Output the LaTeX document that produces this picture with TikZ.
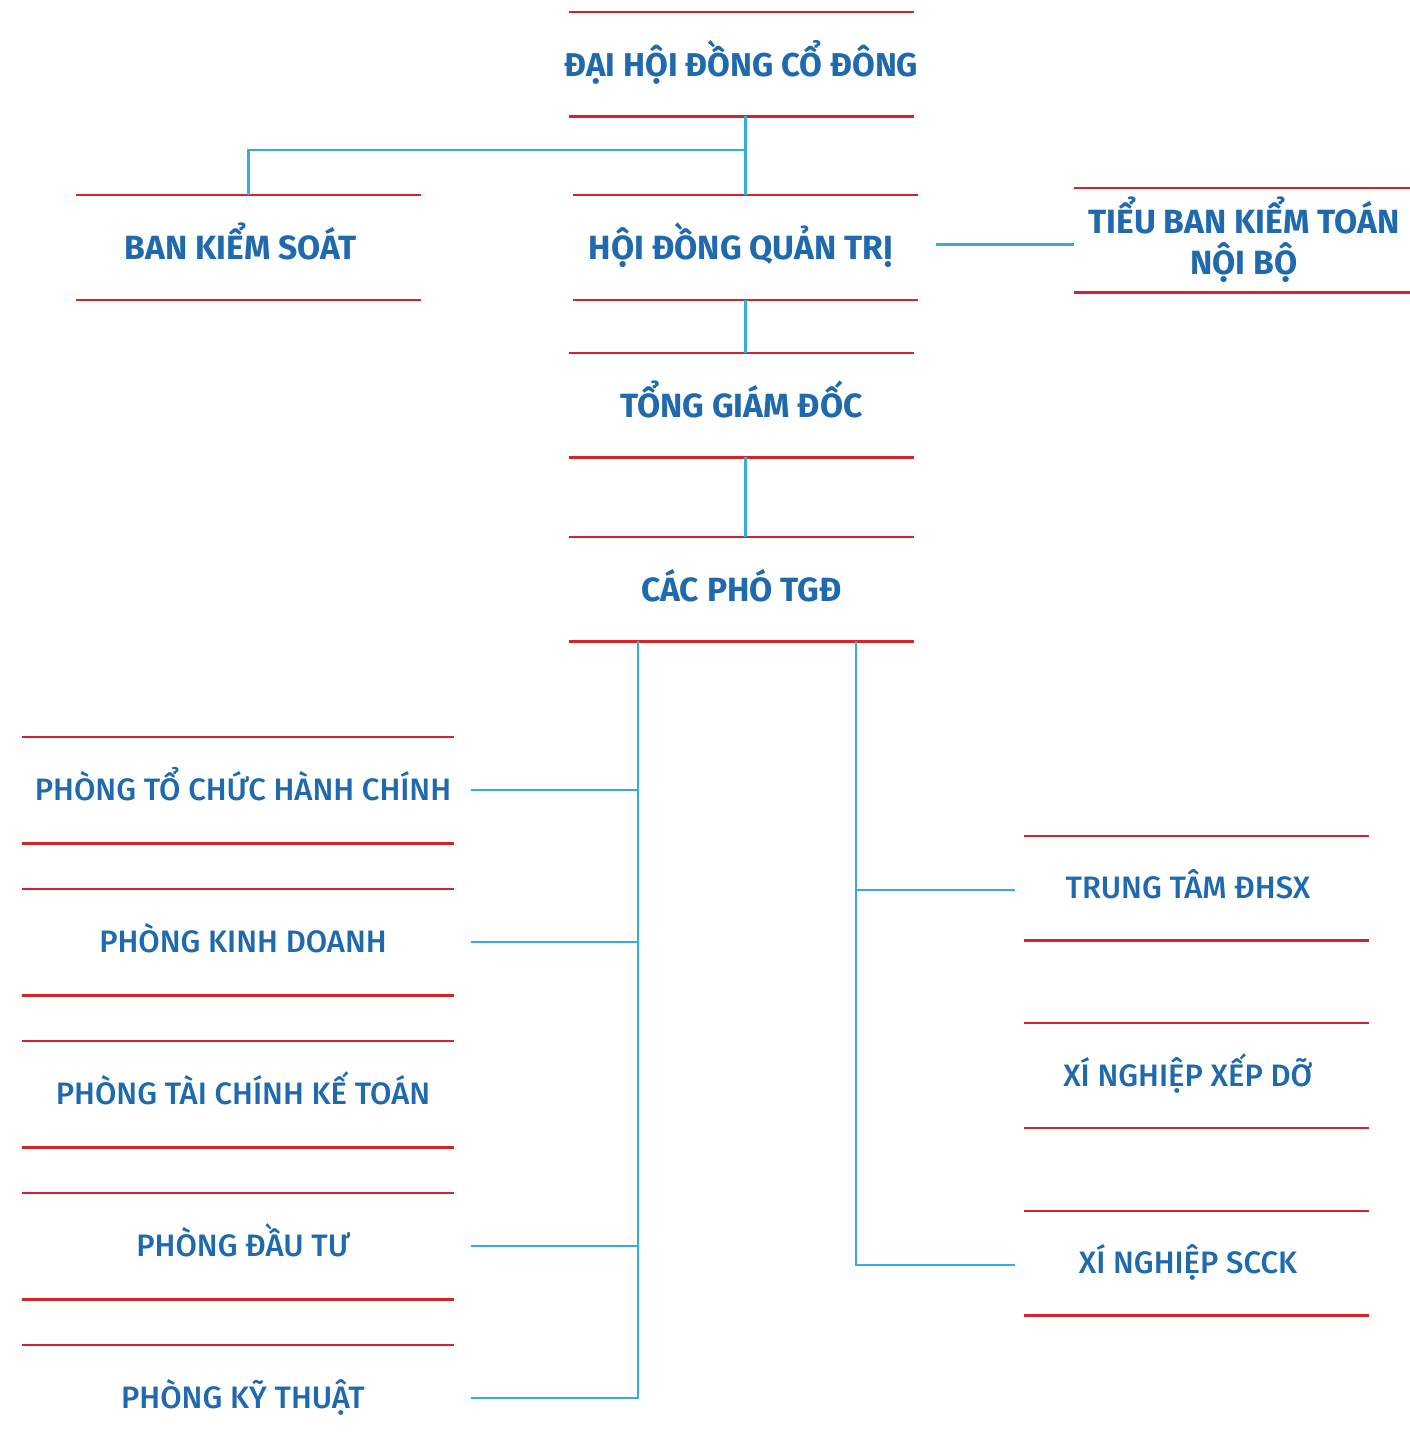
\documentclass[tikz,border=0pt]{standalone}
\usepackage{fontspec}
\setmainfont{Fira Sans}
\newfontfamily\headfont{Fira Sans Bold}
\newfontfamily\unitfont{Fira Sans Medium}
\usetikzlibrary{calc}
\definecolor{rline}{HTML}{D4232B}
\definecolor{btext}{HTML}{1F69AE}
\definecolor{cline}{HTML}{33AEDC}
\tikzset{
  x=0.5pt, y=-0.5pt,
  head/.style={inner sep=0pt, minimum width=172.5pt, minimum height=52pt, align=center,
    text height=12pt, text depth=0pt,
    text=btext, font=\headfont\fontsize{16.8}{20.5}\selectfont},
  unit/.style={inner sep=0pt, minimum width=172.5pt, minimum height=52pt, align=center,
    text height=10.7pt, text depth=0pt,
    text=btext, font=\unitfont\fontsize{15.5}{18}\selectfont},
  lunit/.style={unit, minimum width=216pt, minimum height=53pt, execute at begin node=\hspace*{5pt}},
  runit/.style={unit, execute at end node=\hspace*{8.5pt}},
  redline/.style={draw=rline, line width=1.1pt},
  conn/.style={draw=cline, line width=1.1pt},
}
\newcommand{\rules}[1]{\draw[redline] (#1.north west) -- (#1.north east); \draw[redline] (#1.south west) -- (#1.south east);}
\begin{document}
\begin{tikzpicture}
\useasboundingbox (0,0) rectangle (1410,1448);
% top level
\node[head, font=\headfont\fontsize{16.5}{20.5}\selectfont] (dhd) at (741.5,64) {\makebox[0pt]{ĐẠI HỘI ĐỒNG CỔ ĐÔNG}};
\node[head, execute at end node=\hspace*{7.5pt}] (bks) at (248.5,247.5) {BAN KIỂM SOÁT};
\node[head, execute at end node=\hspace*{4.5pt}] (hdqt) at (745.5,247.5) {HỘI ĐỒNG QUẢN TRỊ};
\node[head, minimum width=168pt, text height=34.5pt, execute at begin node=\hspace*{2pt}] (tb) at (1242,240) {TIỂU BAN KIỂM TOÁN\\NỘI BỘ};
\node[head] (tgd) at (741.5,405) {TỔNG GIÁM ĐỐC};
\node[head] (pho) at (741.5,589) {CÁC PHÓ TGĐ};
% left units
\node[lunit] (p1) at (238,790) {PHÒNG TỔ CHỨC HÀNH CHÍNH};
\node[lunit] (p2) at (238,942) {PHÒNG KINH DOANH};
\node[lunit] (p3) at (238,1094) {PHÒNG TÀI CHÍNH KẾ TOÁN};
\node[lunit] (p4) at (238,1246) {PHÒNG ĐẦU TƯ};
\node[lunit] (p5) at (238,1398) {PHÒNG KỸ THUẬT};
% right units
\node[runit] (r1) at (1196.5,888) {TRUNG TÂM ĐHSX};
\node[runit] (r2) at (1196.5,1075.5) {XÍ NGHIỆP XẾP DỠ};
\node[runit] (r3) at (1196.5,1263) {XÍ NGHIỆP SCCK};
% red rules
\foreach \n in {dhd,bks,hdqt,tb,tgd,pho,p1,p2,p3,p4,p5,r1,r2,r3} {\rules{\n}}
% connectors
\coordinate (j1) at (hdqt.north |- 0,150);
\draw[conn] (hdqt.north |- dhd.south) -- (hdqt.north);
\draw[conn] (j1) -| (bks.north);
\coordinate (h1) at ($(hdqt.east)+(18,-3)$);
\draw[conn] (h1) -- (h1 -| tb.west);
\draw[conn] (hdqt.south) -- (hdqt.south |- tgd.north);
\draw[conn] (hdqt.south |- tgd.south) -- (hdqt.south |- pho.north);
% left trunk
\coordinate (lt) at (pho.south -| 638,0);
\coordinate (e1) at ($(p1.east)+(17,0)$);
\coordinate (e2) at ($(p2.east)+(17,0)$);
\coordinate (e4) at ($(p4.east)+(17,0)$);
\coordinate (e5) at ($(p5.east)+(17,0)$);
\draw[conn] (lt) |- (e5);
\draw[conn] (e1) -- (e1 -| lt);
\draw[conn] (e2) -- (e2 -| lt);
\draw[conn] (e4) -- (e4 -| lt);
% right trunk
\coordinate (rt) at (pho.south -| 856,0);
\coordinate (w1) at ($(r1.west)+(-9,2)$);
\coordinate (w3) at ($(r3.west)+(-9,2)$);
\draw[conn] (rt) |- (w3);
\draw[conn] (w1 -| rt) -- (w1);
\end{tikzpicture}
\end{document}
